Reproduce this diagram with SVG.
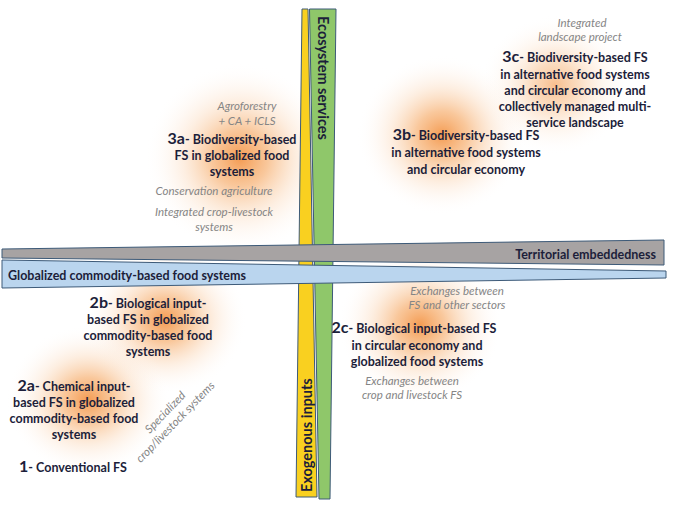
<svg xmlns="http://www.w3.org/2000/svg" width="677" height="507" viewBox="0 0 677 507">
<defs>
<radialGradient id="glow">
<stop offset="0" stop-color="#F28A34" stop-opacity="0.85"/>
<stop offset="0.3" stop-color="#F5A35A" stop-opacity="0.6"/>
<stop offset="0.6" stop-color="#F9C89C" stop-opacity="0.3"/>
<stop offset="0.85" stop-color="#FCE6D4" stop-opacity="0.1"/>
<stop offset="1" stop-color="#FFFFFF" stop-opacity="0"/>
</radialGradient>
<style>
.b{font-family:Lato,"Liberation Sans",sans-serif;font-weight:bold;font-size:12.5px;fill:#1c1e3a;text-anchor:middle}
.n{font-size:16px}
.i{font-family:Lato,"Liberation Sans",sans-serif;font-style:italic;font-size:11.5px;fill:#858585;text-anchor:middle}
.ax{font-family:Lato,"Liberation Sans",sans-serif;font-weight:bold;font-size:12.5px;fill:#1c1e3a}
.v{font-size:14.5px}
.bar{stroke:#3d5a78;stroke-width:1}
</style>
</defs>
<rect width="677" height="507" fill="#ffffff"/>
<g id="glows">
<ellipse cx="240" cy="158" rx="95" ry="95" fill="url(#glow)"/>
<ellipse cx="442" cy="135" rx="85" ry="80" fill="url(#glow)"/>
<ellipse cx="555" cy="85" rx="75" ry="70" fill="url(#glow)" opacity="0.65"/>
<ellipse cx="165" cy="320" rx="82" ry="74" fill="url(#glow)"/>
<ellipse cx="88" cy="400" rx="82" ry="75" fill="url(#glow)"/>
<ellipse cx="420" cy="325" rx="82" ry="78" fill="url(#glow)"/>
</g>
<g id="axes">
<g id="exogenous-inputs">
<polygon class="bar" points="302,9 308,9 317,497 296,497" fill="#F9D020"/>
<text class="ax v" transform="translate(312,492) rotate(-90)">Exogenous inputs</text>
</g>
<g id="ecosystem-services">
<polygon class="bar" points="309.5,9 336,9 330,499 319,499" fill="#8FC76A"/>
<text class="ax v" transform="translate(318,16) rotate(90)">Ecosystem services</text>
</g>
<g id="territorial-embeddedness">
<polygon class="bar" points="2,249 664,240 664,265 2,258" fill="#A7A3A3"/>
<text class="ax" x="656" y="259" text-anchor="end">Territorial embeddedness</text>
</g>
<g id="globalized-commodity">
<polygon class="bar" points="2,260 666,271 666,278 2,288" fill="#BAD5EE"/>
<text class="ax" x="8" y="280">Globalized commodity-based food systems</text>
</g>
</g>
<g id="node-3c">
<text class="i" x="582" y="27">Integrated</text>
<text class="i" x="580" y="41">landscape project</text>
<text class="b" x="575" y="62"><tspan class="n">3c</tspan>- Biodiversity-based FS</text>
<text class="b" x="575" y="79">in alternative food systems</text>
<text class="b" x="575" y="95">and circular economy and</text>
<text class="b" x="575" y="111">collectively managed multi-</text>
<text class="b" x="575" y="127">service landscape</text>
</g>
<g id="node-3b">
<text class="b" x="466" y="140"><tspan class="n">3b</tspan>- Biodiversity-based FS</text>
<text class="b" x="466" y="157">in alternative food systems</text>
<text class="b" x="466" y="174">and circular economy</text>
</g>
<g id="node-3a">
<text class="i" x="247" y="110">Agroforestry</text>
<text class="i" x="247" y="125">+ CA + ICLS</text>
<text class="b" x="232" y="144"><tspan class="n">3a</tspan>- Biodiversity-based</text>
<text class="b" x="232" y="160">FS in globalized food</text>
<text class="b" x="232" y="176">systems</text>
<text class="i" x="214" y="195">Conservation agriculture</text>
<text class="i" x="214" y="216">Integrated crop-livestock</text>
<text class="i" x="214" y="231">systems</text>
</g>
<g id="node-2b">
<text class="b" x="148" y="308"><tspan class="n">2b</tspan>- Biological input-</text>
<text class="b" x="148" y="324">based FS in globalized</text>
<text class="b" x="148" y="340">commodity-based food</text>
<text class="b" x="148" y="356">systems</text>
</g>
<g id="node-2a">
<text class="b" x="74" y="391"><tspan class="n">2a</tspan>- Chemical input-</text>
<text class="b" x="74" y="407">based FS in globalized</text>
<text class="b" x="74" y="423">commodity-based food</text>
<text class="b" x="74" y="439">systems</text>
</g>
<g id="node-specialized">
<text class="i" transform="translate(168,415) rotate(-46)"><tspan x="0" y="0">Specialized</tspan><tspan x="0" y="14">crop/livestock systems</tspan></text>
</g>
<g id="node-1">
<text class="b" x="73" y="472"><tspan class="n">1</tspan>- Conventional FS</text>
</g>
<g id="node-2c">
<text class="i" x="457" y="295">Exchanges between</text>
<text class="i" x="457" y="309">FS and other sectors</text>
<text class="b" x="414" y="333"><tspan class="n">2c</tspan>- Biological input-based FS</text>
<text class="b" x="417" y="350">in circular economy and</text>
<text class="b" x="417" y="366">globalized food systems</text>
<text class="i" x="412" y="385">Exchanges between</text>
<text class="i" x="412" y="399">crop and livestock FS</text>
</g>
<g id="connectors"></g>
</svg>
